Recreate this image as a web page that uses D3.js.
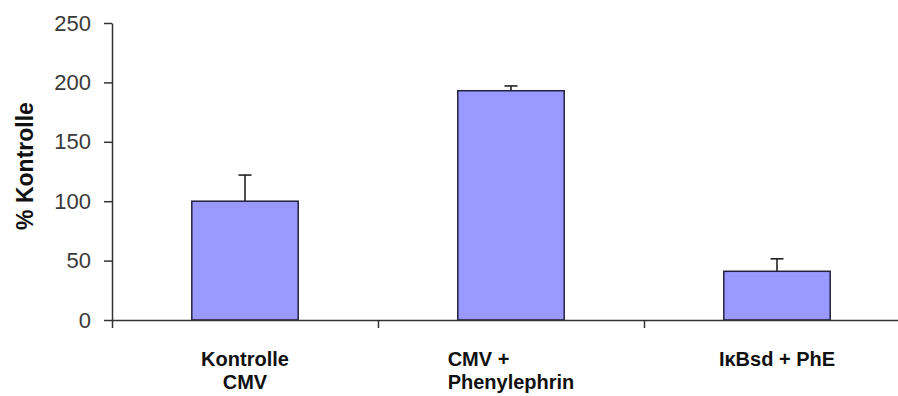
<!DOCTYPE html>
<html>
<head>
<meta charset="utf-8">
<script src="https://cdn.jsdelivr.net/npm/d3@7"></script>
<style>
  html, body { margin: 0; padding: 0; background: #fff; }
  svg { display: block; }
</style>
</head>
<body>
<svg id="chart" width="898" height="396"></svg>
<script>
// Groups (each label split into its lines)
const categories = ["Kontrolle CMV", "CMV + Phenylephrin", "IκBsd + PhE"];
const categoryLines = [["Kontrolle", "CMV"], ["CMV +", "Phenylephrin"], ["IκBsd + PhE"]];
// Mean values in % of control and their error (upper bar only)
const values = [100, 193, 41];
const errors = [22, 4, 10.5];
// Y axis ticks
const yTicks = [0, 50, 100, 150, 200, 250];

const svg = d3.select("#chart");
const plotLeft = 112, plotRight = 910, plotTop = 23, plotBottom = 320;

const x = d3.scaleBand().domain(categories).range([plotLeft, plotRight]).padding(0);
const y = d3.scaleLinear().domain([0, 250]).range([plotBottom, plotTop]);

const axisColor = "#333";

// Bars
const barFrac = 0.4;
svg.append("g").selectAll("rect")
  .data(categories)
  .join("rect")
  .attr("x", d => x(d) + x.bandwidth() * (1 - barFrac) / 2)
  .attr("width", x.bandwidth() * barFrac)
  .attr("y", (d, i) => y(values[i]))
  .attr("height", (d, i) => y(0) - y(values[i]))
  .attr("fill", "#9999ff")
  .attr("stroke", "#22223a")
  .attr("stroke-width", 1.5);

// Error bars (upper whisker with cap)
const eb = svg.append("g").attr("stroke", "#222").attr("stroke-width", 1.6);
categories.forEach((c, i) => {
  const cx = x(c) + x.bandwidth() / 2;
  eb.append("line")
    .attr("x1", cx).attr("x2", cx)
    .attr("y1", y(values[i])).attr("y2", y(values[i] + errors[i]));
  eb.append("line")
    .attr("x1", cx - 6.5).attr("x2", cx + 6.5)
    .attr("y1", y(values[i] + errors[i])).attr("y2", y(values[i] + errors[i]));
});

// Y axis
const yAxis = d3.axisLeft(y).tickValues(yTicks).tickSize(8).tickPadding(13).tickSizeOuter(0);
const gy = svg.append("g").attr("transform", `translate(${plotLeft},0)`).call(yAxis);
gy.select(".domain").attr("stroke", axisColor).attr("stroke-width", 1.5);
gy.selectAll(".tick line").attr("stroke", axisColor).attr("stroke-width", 1.5);
gy.selectAll(".tick text")
  .attr("fill", "#3a3a3a")
  .style("font-family", "Liberation Sans, Arial, sans-serif")
  .style("font-size", "22px");

// X axis: ticks on the category boundaries
const boundaries = categories.map(c => x(c)).concat([plotRight]);
const xb = d3.scaleLinear().domain([plotLeft, plotRight]).range([plotLeft, plotRight]);
const xAxis = d3.axisBottom(xb).tickValues(boundaries).tickSize(8).tickSizeOuter(0).tickFormat("");
const gx = svg.append("g").attr("transform", `translate(0,${plotBottom})`).call(xAxis);
gx.select(".domain").attr("stroke", axisColor).attr("stroke-width", 1.5);
gx.selectAll(".tick line").attr("stroke", axisColor).attr("stroke-width", 1.5);

// Category labels
const labelFont = "Liberation Sans, Arial, sans-serif";
const labelY = 366, lineGap = 23;
categories.forEach((c, i) => {
  const cx = x(c) + x.bandwidth() / 2;
  const lines = categoryLines[i];
  const t = svg.append("text")
    .attr("class", "cat-label")
    .attr("x", cx)
    .attr("y", labelY)
    .attr("text-anchor", "middle")
    .attr("fill", "#111")
    .style("font-family", labelFont)
    .style("font-weight", "bold")
    .style("font-size", "20px");
  lines.forEach((ln, j) => {
    t.append("tspan").attr("x", cx).attr("y", labelY + j * lineGap).text(ln);
  });
});
// The second group's first line is left-aligned with its second line
{
  const spans = svg.selectAll(".cat-label").filter((d, i) => i === 1).selectAll("tspan").nodes();
  if (spans.length === 2) {
    const w = spans[1].getComputedTextLength();
    const cx = +d3.select(spans[1]).attr("x");
    d3.select(spans[0]).attr("x", cx - w / 2).attr("text-anchor", "start");
  }
}

// Y axis title
svg.append("text")
  .attr("transform", "translate(33,166) rotate(-90)")
  .attr("text-anchor", "middle")
  .attr("fill", "#111")
  .style("font-family", labelFont)
  .style("font-weight", "bold")
  .style("font-size", "23px")
  .text("% Kontrolle");
</script>
</body>
</html>
